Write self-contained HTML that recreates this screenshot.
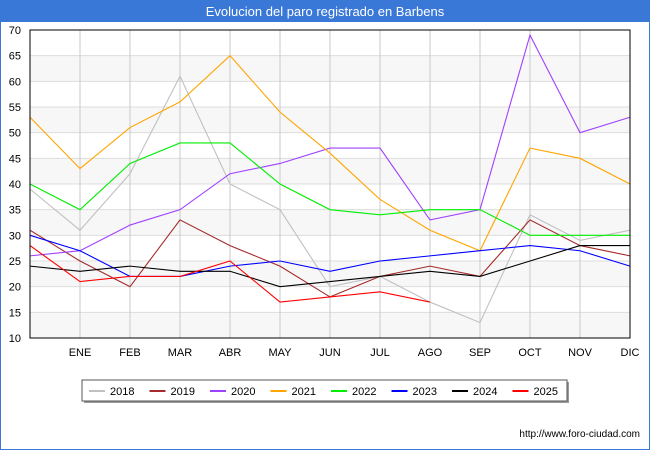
<!DOCTYPE html>
<html><head><meta charset="utf-8"><style>
body{margin:0;width:650px;height:450px;background:#fff;font-family:"Liberation Sans",sans-serif;overflow:hidden}
</style></head><body>
<svg width="650" height="450" id="c" xmlns="http://www.w3.org/2000/svg">
<rect x="0" y="0" width="650" height="450" fill="#fff" stroke="#3a78d8" stroke-width="2"/>
<rect x="0" y="0" width="650" height="22" fill="#3a78d8"/>
<text x="325" y="16" text-anchor="middle" fill="#fff" font-size="13">Evolucion del paro registrado en Barbens</text>
<g id="plot"></g>
<text x="640" y="437" text-anchor="end" font-size="10" fill="#000">http://www.foro-ciudad.com</text>
</svg>
<script>
const months=["","ENE","FEB","MAR","ABR","MAY","JUN","JUL","AGO","SEP","OCT","NOV","DIC"];
const yTicks=[10,15,20,25,30,35,40,45,50,55,60,65,70];
const years=["2018","2019","2020","2021","2022","2023","2024","2025"];
const colors=["#c0c0c0","#a52a2a","#a040ff","#ffa500","#00ee00","#0000ff","#000000","#ff0000"];
const s2018=[39,31,42,61,40,35,20,22,17,13,34,29,31];
const s2019=[31,25,20,33,28,24,18,22,24,22,33,28,26];
const s2020=[26,27,32,35,42,44,47,47,33,35,69,50,53];
const s2021=[53,43,51,56,65,54,46,37,31,27,47,45,40];
const s2022=[40,35,44,48,48,40,35,34,35,35,30,30,30];
const s2023=[30,27,22,22,24,25,23,25,26,27,28,27,24];
const s2024=[24,23,24,23,23,20,21,22,23,22,25,28,28];
const s2025=[28,21,22,22,25,17,18,19,17];
const series=[s2018,s2019,s2020,s2021,s2022,s2023,s2024,s2025];
const NS="http://www.w3.org/2000/svg";
const X0=30,X1=630,Y0=30,Y1=338;
const xs=i=>X0+i*(X1-X0)/(months.length-1);
const ys=v=>Y1-(v-10)*(Y1-Y0)/60;
const g=document.getElementById('plot');
function mk(t,a){const e=document.createElementNS(NS,t);for(const k in a)e.setAttribute(k,a[k]);g.appendChild(e);return e;}
for(let i=0;i<yTicks.length-1;i++){
 if(i%2===0){const r=mk('rect',{x:X0,y:ys(yTicks[i+1]),width:X1-X0,height:ys(yTicks[i])-ys(yTicks[i+1]),fill:'#f7f7f7'});
 
 }
}
yTicks.forEach(v=>{
 const l=mk('line',{x1:X0,x2:X1,y1:ys(v),y2:ys(v),stroke:'#dddddd','stroke-width':1});
 
 
 const t=mk('text',{x:X0-9,y:ys(v)+4,'text-anchor':'end','font-size':11,fill:'#000'});
 t.textContent=v;
 
 
});
months.forEach((m,i)=>{
 const l=mk('line',{x1:xs(i),x2:xs(i),y1:Y0,y2:Y1,stroke:'#c8c8c8','stroke-width':1});
 
 
 if(m){const t=mk('text',{x:xs(i),y:356,'text-anchor':'middle','font-size':11,fill:'#000'});
 t.textContent=m;
 
 }
});
series.forEach((s,k)=>{
 const p=mk('polyline',{points:s.map((v,i)=>xs(i)+','+ys(v)).join(' '),fill:'none',stroke:colors[k],'stroke-width':1.1});
 
 
});
const fr=mk('rect',{x:X0,y:Y0,width:X1-X0,height:Y1-Y0,fill:'none',stroke:'#000','stroke-width':1});


const sh=mk('rect',{x:84,y:382,width:485,height:21,fill:'#999'});


const lb=mk('rect',{x:82,y:380,width:485,height:21,fill:'#fff',stroke:'#555'});


years.forEach((y,k)=>{
 const bx=89+k*60.5;
 const l=mk('line',{x1:bx,x2:bx+16,y1:391,y2:391,stroke:colors[k],'stroke-width':2});
 
 
 const t=mk('text',{x:bx+21,y:395,'font-size':11,fill:'#000'});
 t.textContent=y;
 
 
});
</script>
</body></html>
